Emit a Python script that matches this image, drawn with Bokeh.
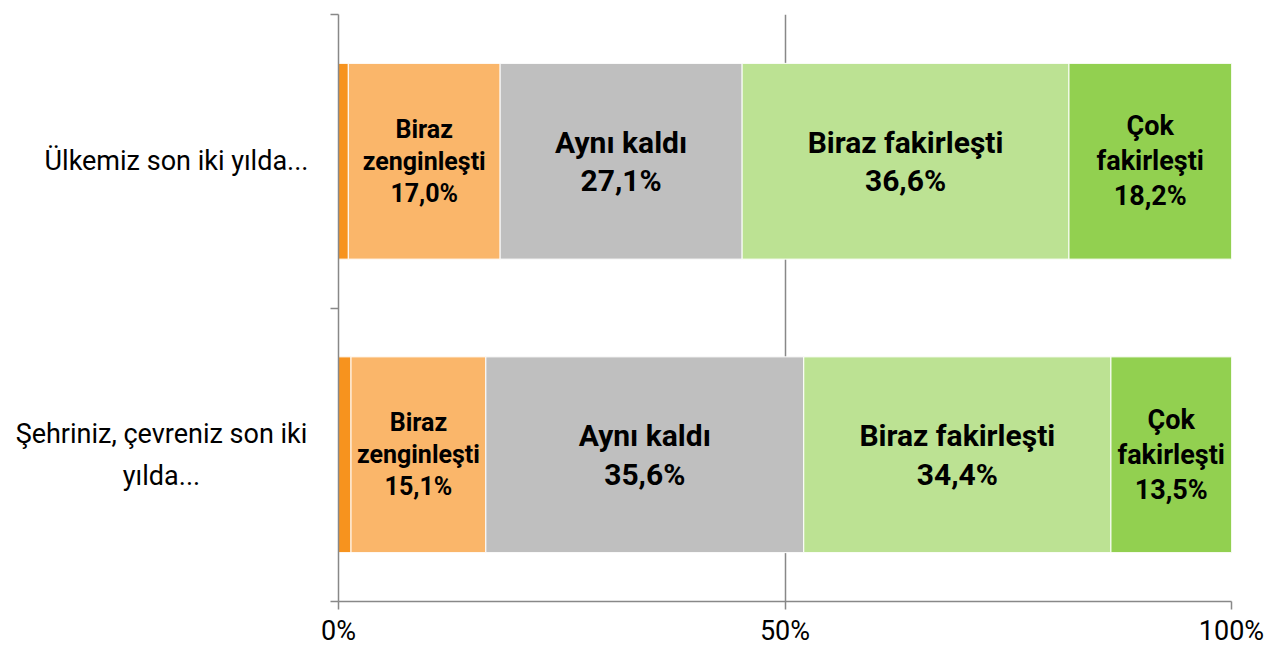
from bokeh.plotting import figure
from bokeh.layouts import row
from bokeh.models import ColumnDataSource, Range1d, FixedTicker
from bokeh.core.properties import value
from bokeh.embed import file_html
from bokeh.resources import INLINE

# ---- data ----
categories = ["Ülkemiz son iki yılda...", "Şehriniz, çevreniz son iki yılda..."]
category_display = ["Ülkemiz son iki yılda...", "Şehriniz, çevreniz son iki\nyılda..."]
segments = ["Çok zenginleşti", "Biraz zenginleşti", "Aynı kaldı", "Biraz fakirleşti", "Çok fakirleşti"]
segment_display = ["Çok zenginleşti", "Biraz\nzenginleşti", "Aynı kaldı", "Biraz fakirleşti", "Çok\nfakirleşti"]
cok_zenginlesti = [1.1, 1.4]
biraz_zenginlesti = [17.0, 15.1]
ayni_kaldi = [27.1, 35.6]
biraz_fakirlesti = [36.6, 34.4]
cok_fakirlesti = [18.2, 13.5]
x_ticks = [0, 50, 100]
x_tick_labels = ["0%", "50%", "100%"]

# ---- styles ----
colors = ["#F7931E", "#FAB66A", "#BFBFBF", "#BCE293", "#92D050"]
label_sizes = ["25px", "25px", "30px", "30px", "27px"]
labelled = [False, True, True, True, True]
FONT = "Roboto"
AXIS_COLOR = "#888888"
LEFT_W = 318          # width of the category-label panel
TOP, BOTTOM = 14, 45
H = 649
label_cx = [176, 161]  # label centres inside the label panel

series = [cok_zenginlesti, biraz_zenginlesti, ayni_kaldi, biraz_fakirlesti, cok_fakirlesti]
n = len(categories)
ypos = [n - 0.5 - i for i in range(n)]  # first category on top
yr = Range1d(0, n)

data = {"y": ypos}
keys = []
for k, s in enumerate(series):
    key = f"s{k}"
    keys.append(key)
    data[key] = s
src = ColumnDataSource(data)

# ---- main chart ----
p = figure(width=1270 - LEFT_W, height=H, x_range=Range1d(0, 100), y_range=yr,
           output_backend="svg", toolbar_location=None,
           min_border_left=338 - LEFT_W, min_border_right=39,
           min_border_top=TOP, min_border_bottom=BOTTOM)
p.outline_line_color = None
p.background_fill_color = "white"

p.hbar_stack(keys, y="y", height=0.667, color=colors, line_color="white", line_width=1, source=src)

tx, ty, tt, ts = [], [], [], []
for j in range(n):
    left = 0.0
    for k, s in enumerate(series):
        v = s[j]
        if labelled[k]:
            tx.append(left + v / 2)
            ty.append(ypos[j])
            tt.append(segment_display[k] + "\n" + f"{v:.1f}".replace(".", ",") + "%")
            ts.append(label_sizes[k])
        left += v
lsrc = ColumnDataSource(dict(x=tx, y=ty, text=tt, size=ts))
p.text(x="x", y="y", text="text", source=lsrc, text_align="center", text_baseline="middle",
       text_font=value(FONT), text_font_style="bold", text_font_size="size",
       text_color="black", text_line_height=1.1)

p.xaxis.ticker = FixedTicker(ticks=x_ticks)
p.xaxis.major_label_overrides = {t: l for t, l in zip(x_ticks, x_tick_labels)}
p.xaxis.major_label_text_font = FONT
p.xaxis.major_label_text_font_size = "27px"
p.xaxis.major_label_text_color = "black"
p.xaxis.major_label_standoff = 5
p.xaxis.axis_line_color = AXIS_COLOR
p.xaxis.axis_line_width = 1.5
p.xaxis.major_tick_line_color = AXIS_COLOR
p.xaxis.major_tick_line_width = 1.5
p.xaxis.major_tick_in = 0
p.xaxis.major_tick_out = 8
p.xaxis.minor_tick_line_color = None

p.yaxis.ticker = FixedTicker(ticks=list(range(n + 1)))
p.yaxis.major_label_overrides = {i: "" for i in range(n + 1)}
p.yaxis.major_label_text_font_size = "1px"
p.yaxis.major_label_standoff = 0
p.yaxis.axis_line_color = AXIS_COLOR
p.yaxis.axis_line_width = 1.5
p.yaxis.major_tick_line_color = AXIS_COLOR
p.yaxis.major_tick_line_width = 1.5
p.yaxis.major_tick_in = 0
p.yaxis.major_tick_out = 8
p.yaxis.minor_tick_line_color = None

p.xgrid.ticker = FixedTicker(ticks=x_ticks[1:])
p.xgrid.grid_line_color = AXIS_COLOR
p.xgrid.grid_line_width = 1.5
p.ygrid.grid_line_color = None

# ---- category label panel ----
q = figure(width=LEFT_W, height=H, x_range=Range1d(0, LEFT_W), y_range=yr,
           x_axis_type=None, y_axis_type=None,
           output_backend="svg", toolbar_location=None,
           min_border_left=0, min_border_right=0,
           min_border_top=TOP, min_border_bottom=BOTTOM)
q.outline_line_color = None
q.grid.grid_line_color = None
csrc = ColumnDataSource(dict(x=label_cx, y=ypos, text=category_display))
q.text(x="x", y="y", text="text", source=csrc, text_align="center", text_baseline="middle",
       text_font=value(FONT), text_font_size="27px", text_color="black", text_line_height=1.3)

layout = row(q, p, spacing=0)
open("out.html", "w").write(file_html(layout, INLINE))
